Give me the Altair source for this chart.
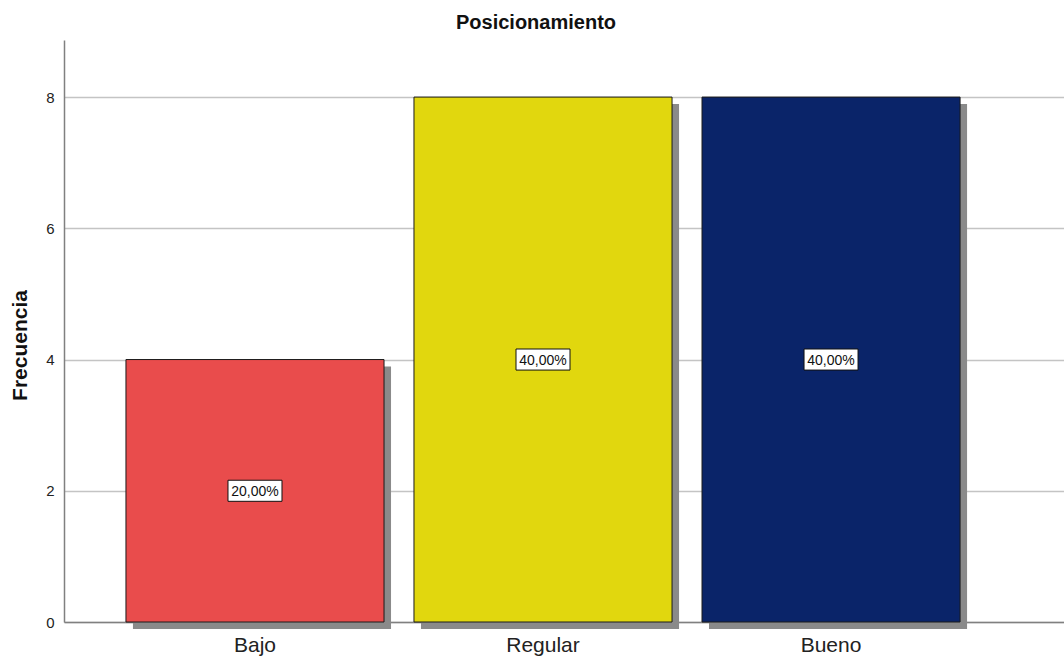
import altair as alt
import pandas as pd

# Frequency table for "Posicionamiento"
categories = ["Bajo", "Regular", "Bueno"]
counts = [4, 8, 8]
bar_colors = ["#E94C4C", "#E1D70E", "#0A2469"]

total = sum(counts)
pct_labels = [f"{c / total * 100:.2f}%".replace(".", ",") for c in counts]

df = pd.DataFrame({
    "categoria": categories,
    "frecuencia": counts,
    "mitad": [c / 2 for c in counts],
    "porcentaje": pct_labels,
})

FONT = "Liberation Sans"

x_enc = alt.X(
    "categoria:N",
    sort=categories,
    scale=alt.Scale(paddingInner=0.104, paddingOuter=0.288, align=0.3735),
    axis=alt.Axis(
        title=None, labelAngle=0, labelFontSize=21, labelFont=FONT,
        labelColor="#222222", labelPadding=12, ticks=False,
        domainColor="#808080", domainWidth=1.5, grid=False,
    ),
)
y_scale = alt.Scale(domain=[0, 8.87], nice=False, zero=True)

base = alt.Chart(df)

shadow = base.mark_bar(
    color="#8a8a8a", xOffset=7, x2Offset=7, yOffset=7, y2Offset=7, clip=False
).encode(x=x_enc, y=alt.Y("frecuencia:Q", scale=y_scale))

bars = base.mark_bar(stroke="#1a1a1a", strokeWidth=1).encode(
    x=x_enc,
    y=alt.Y(
        "frecuencia:Q",
        scale=y_scale,
        axis=alt.Axis(
            title="Frecuencia", values=[0, 2, 4, 6, 8], format="d",
            labelFontSize=15, labelFont=FONT, labelColor="#222222",
            labelPadding=10, ticks=False,
            domainColor="#808080", domainWidth=1.5,
            grid=True, gridColor="#c4c4c4", gridWidth=1.3,
            titleFont=FONT, titleFontSize=21, titleFontWeight="bold",
            titleColor="#111111", titleX=-38, titleY=305,
            titleAlign="center", titleBaseline="alphabetic", titleAngle=270,
        ),
    ),
    color=alt.Color(
        "categoria:N", sort=categories,
        scale=alt.Scale(domain=categories, range=bar_colors), legend=None,
    ),
)

box_path = "M-1,-0.39L1,-0.39L1,0.39L-1,0.39Z"
boxes = base.mark_point(
    shape=box_path, size=2916, filled=True, fill="white",
    stroke="#111111", strokeWidth=1, opacity=1,
).encode(x=x_enc, y=alt.Y("mitad:Q", scale=y_scale))

labels = base.mark_text(
    font=FONT, fontSize=14, color="#111111", align="center",
    baseline="middle", dy=1,
).encode(x=x_enc, y=alt.Y("mitad:Q", scale=y_scale), text="porcentaje:N")

chart = alt.layer(shadow, bars, boxes, labels).properties(
    width=1000,
    height=582,
    autosize=alt.AutoSizeParams(type="none"),
    padding={"left": 64, "top": 40, "right": 0, "bottom": 37},
    background="white",
    title=alt.TitleParams(
        "Posicionamiento", font=FONT, fontSize=20, fontWeight="bold",
        color="#111111", anchor="middle", frame="group", dx=-28, dy=22,
        baseline="alphabetic", offset=13,
    ),
).configure_view(stroke=None)

chart.save("out.html", embed_options={"renderer": "svg", "actions": False})
